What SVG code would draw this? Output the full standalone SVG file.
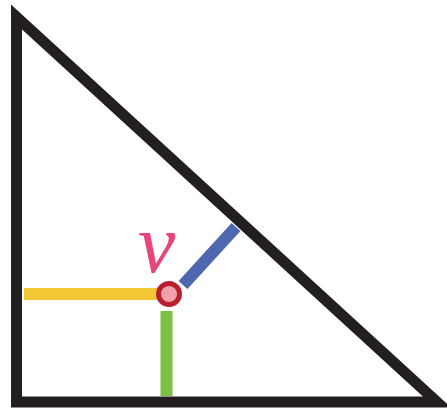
<svg xmlns="http://www.w3.org/2000/svg" width="447" height="410" viewBox="0 0 447 410">
<style>
.edge{fill:none;stroke:#231f20;stroke-width:11;stroke-linejoin:miter;stroke-miterlimit:10}
.seg{stroke-width:12;stroke-linecap:butt}
.lbl{font-family:"Liberation Serif",serif;font-style:italic;fill:#e8467a}
</style>
<rect width="447" height="410" fill="#fff"/>
<g id="triangle">
<polygon class="edge" points="16.5,17 16.5,402 437,402"/>
</g>
<g id="connectors">
<line class="seg" x1="24" y1="294" x2="157" y2="294" stroke="#f2c935"/>
<line class="seg" x1="166.5" y1="311" x2="166.5" y2="396" stroke="#7bc043"/>
<line class="seg" x1="183" y1="285" x2="236" y2="227" stroke="#4f67b0" stroke-width="11"/>
</g>
<g id="v">
<circle cx="169" cy="294" r="10.5" fill="#f2a0ac" stroke="#b8202f" stroke-width="5"/>
<text class="lbl" x="138" y="272" font-size="84">v</text>
</g>
</svg>
